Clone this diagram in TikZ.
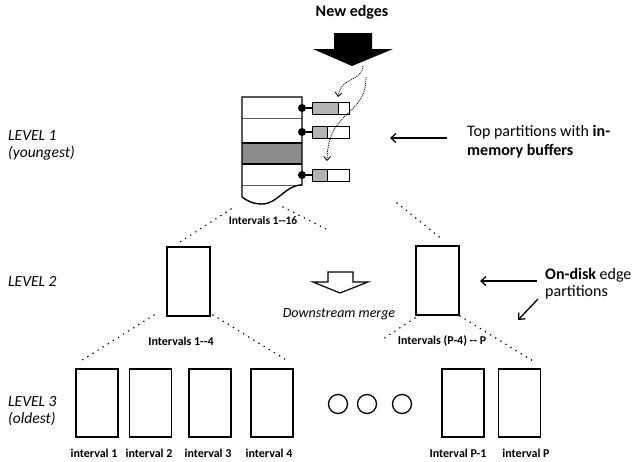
\documentclass[tikz,border=0pt]{standalone}
\usepackage{fontspec}
\setmainfont{Carlito}
\usetikzlibrary{arrows.meta}
\definecolor{bandgray}{HTML}{8C8C8C}
\definecolor{bufgray}{HTML}{B4B4B4}
\begin{document}
\begin{tikzpicture}[x=1pt,y=-1pt,
  box/.style={draw, line width=1.3pt, minimum width=43pt, minimum height=69pt, inner sep=0pt},
  lbox/.style={draw, line width=1.3pt, minimum width=42pt, minimum height=68pt, inner sep=0pt},
  dotline/.style={line width=1.7pt, dash pattern=on 0pt off 6pt, line cap=round},
  arr/.style={line width=1.3pt, -{Straight Barb[length=5pt,width=9pt]}},
  curvarr/.style={line width=0.8pt, dash pattern=on 1pt off 1pt, -{Straight Barb[length=4pt,width=7pt]}},
  lvl/.style={font=\fontsize{15.5}{18}\selectfont\itshape, anchor=base west, inner sep=0pt},
  lab/.style={font=\fontsize{12}{14}\selectfont\bfseries, anchor=base, inner sep=0pt},
  txt/.style={font=\fontsize{16}{19}\selectfont, anchor=base west, inner sep=0pt},
  dot/.style={circle, fill, inner sep=0pt, minimum size=8pt},
  buf/.style={draw, line width=1pt, minimum width=37pt, minimum height=12pt, inner sep=0pt, anchor=west},
  ring/.style={circle, draw, line width=1.3pt, minimum size=19pt, inner sep=0pt}
]
\useasboundingbox (0,0) rectangle (640,461);

% ---- title and big arrow
\node[font=\fontsize{16}{19}\selectfont\bfseries, anchor=base, inner sep=0pt] (newedges) at (352,16) {New edges};
\fill (334,33) -- (372,33) -- (372,49) -- (393,49) -- (352,66) -- (313,49) -- (334,49) -- cycle;
\coordinate (bigtip) at (352,66);

% ---- level 1 partition stack
\fill[bandgray] (242,143) rectangle (302,164);
\draw[line width=1.1pt] (242,143) -- (302,143) (242,164) -- (302,164);
\draw[line width=1pt, black!65] (242,118) -- (302,118) (242,185) -- (302,185);
\draw[line width=1.4pt] (242,197) -- (242,97) -- (302,97) -- (302,185)
  .. controls (285,185) and (278,204) .. (262,204)
  .. controls (252,204) and (246,200) .. (242,197);

% buffers
\fill[bufgray] (312,102) rectangle (338,114);
\fill[bufgray] (312,126) rectangle (327,138);
\fill[bufgray] (312,169) rectangle (327,181);
\node[buf] (b1) at (312,108) {};
\node[buf] (b2) at (312,132) {};
\node[buf] (b3) at (312,175) {};
\draw[line width=1pt] (338,102) -- (338,114) (327,126) -- (327,138) (327,169) -- (327,181);
\node[dot] (d1) at (302,108) {};
\node[dot] (d2) at (302,132) {};
\node[dot] (d3) at (302,175) {};
\draw[line width=1.2pt] (d1) -- (b1.west) (d2) -- (b2.west) (d3) -- (b3.west);

% dotted curved arrows
\coordinate (c1s) at (363,66);
\coordinate (c1e) at (338,97);
\coordinate (c2s) at (366,77);
\coordinate (c2e) at (327,161);
\draw[curvarr] (c1s) .. controls (362,82) and (341,76) .. (c1e);
\draw[curvarr] (c2s) .. controls (366,118) and (328,108) .. (c2e);

% annotation: top partitions
\coordinate (tpS) at (447,138);
\coordinate (tpE) at (390,138);
\draw[arr] (tpS) -- (tpE);
\node[txt] (tp1) at (467,136) {Top partitions with \textbf{in-}};
\node[txt] (tp2) at (467,155) {\textbf{memory buffers}};

% ---- level labels
\node[lvl] (l1) at (8,140) {LEVEL 1};
\node[lvl] (l1b) at (8,157) {(youngest)};
\node[lvl] (l2) at (8,286) {LEVEL 2};
\node[lvl] (l3) at (8,406) {LEVEL 3};
\node[lvl] (l3b) at (8,423) {(oldest)};

% ---- level 2
\node[box] (m1) at (188.5,281.5) {};
\node[box] (m2) at (437.5,280.5) {};
\node[font=\fontsize{11.5}{14}\selectfont\bfseries, anchor=base, inner sep=0pt] (i16) at (263,224) {Intervals 1-{}-16};

\coordinate (f1a) at (231,209); \coordinate (f1b) at (177,244);
\coordinate (f2a) at (283,207); \coordinate (f2b) at (328,230);
\coordinate (f3a) at (397,203); \coordinate (f3b) at (443,240);
\draw[dotline] (f1a) -- (f1b);
\draw[dotline] (f2a) -- (f2b);
\draw[dotline] (f3a) -- (f3b);

% downstream merge arrow
\draw[line width=1.2pt, fill=white] (328,272) -- (353,272) -- (353,282) -- (368,282) -- (340,293) -- (313,282) -- (328,282) -- cycle;
\node[font=\fontsize{14}{17}\selectfont\itshape, anchor=base, inner sep=0pt] (dm) at (339,317) {Downstream merge};

% on-disk annotation
\node[txt] (od1) at (545,279) {\textbf{On-disk} edge};
\node[txt] (od2) at (545,296) {partitions};
\coordinate (odS) at (537,281);
\coordinate (odE) at (480,281);
\draw[arr] (odS) -- (odE);
\coordinate (od2S) at (538,299);
\coordinate (od2E) at (518,320);
\draw[arr] (od2S) -- (od2E);

% ---- level 3
\node[lbox] (p1) at (97,403) {};
\node[lbox] (p2) at (150.5,403) {};
\node[lbox] (p3) at (210,403) {};
\node[lbox] (p4) at (272,403) {};
\node[lbox] (pq) at (463,403) {};
\node[lbox] (pp) at (519.5,403) {};

\node[lab] (t1) at (94,457) {interval 1};
\node[lab] (t2) at (149,457) {interval 2};
\node[lab] (t3) at (208,457) {interval 3};
\node[lab] (t4) at (269,457) {interval 4};
\node[lab] (tq) at (458,457) {Interval P-1};
\node[lab] (tp) at (526,457) {interval P};

\node[lab] (i4) at (181,345) {Intervals 1-{}-4};
\node[lab] (ip) at (442,344) {Intervals (P-4) -{}- P};

\coordinate (g1a) at (154,315); \coordinate (g1b) at (79,362);
\coordinate (g2a) at (213,315); \coordinate (g2b) at (288,361);
\coordinate (g3a) at (415,318); \coordinate (g3b) at (383,339);
\coordinate (g4a) at (460,316); \coordinate (g4b) at (533,361);
\draw[dotline] (g1a) -- (g1b);
\draw[dotline] (g2a) -- (g2b);
\draw[dotline] (g3a) -- (g3b);
\draw[dotline] (g4a) -- (g4b);

\node[ring] (o1) at (338,404) {};
\node[ring] (o2) at (367,404) {};
\node[ring] (o3) at (402,404) {};
\end{tikzpicture}
\end{document}
